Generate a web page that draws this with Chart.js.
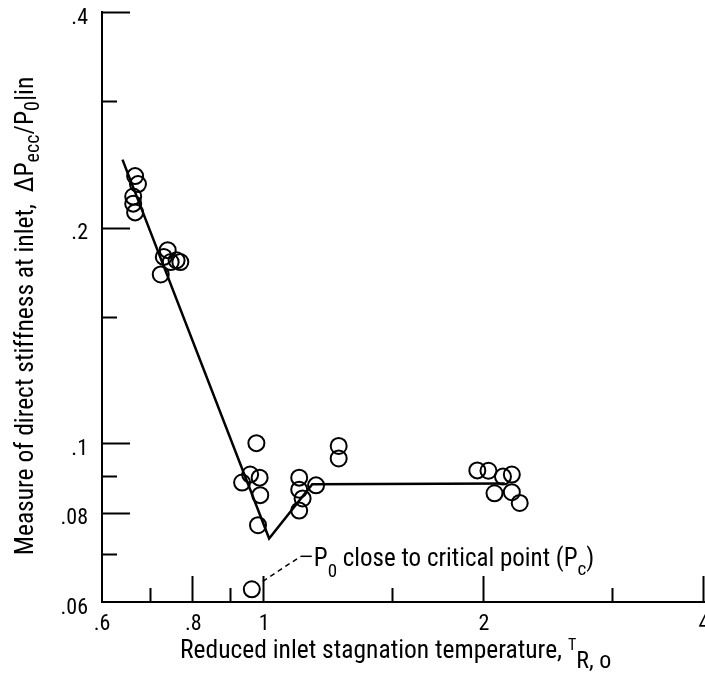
<!DOCTYPE html>
<html>
<head>
<meta charset="utf-8">
<script src="https://cdn.jsdelivr.net/npm/chart.js@4.4.1/dist/chart.umd.min.js"></script>
<style>
  html, body { margin: 0; padding: 0; background: #fff; }
</style>
</head>
<body>
<canvas id="chart" width="705" height="681"></canvas>
<script>
const FONT = '"Roboto Condensed", "DejaVu Sans Condensed", "Liberation Sans", sans-serif';

// test points: reduced inlet stagnation temperature vs. direct stiffness
const tempPoints = [0.666, 0.672, 0.662, 0.662, 0.666,
                    0.738, 0.729, 0.759, 0.768, 0.745, 0.722,
                    0.976, 0.933, 0.957, 0.986, 0.988, 0.981,
                    1.117, 1.117, 1.129, 1.117, 1.178, 1.265, 1.265,
                    1.958, 2.028, 2.123, 2.183, 2.067, 2.183, 2.238];
const stiffPoints = [0.236, 0.230, 0.221, 0.216, 0.210,
                     0.186, 0.182, 0.180, 0.179, 0.179, 0.172,
                     0.100, 0.0881, 0.0904, 0.0895, 0.0846, 0.0768,
                     0.0895, 0.0861, 0.0837, 0.0805, 0.0873, 0.0991, 0.0952,
                     0.0916, 0.0915, 0.0898, 0.0904, 0.0851, 0.0854, 0.0825];

// P0 close to critical point
const critTemp = [0.962];
const critStiff = [0.0625];

// faired curve
const curveTemp = [0.640, 1.016, 1.164, 2.135];
const curveStiff = [0.2488, 0.0736, 0.0876, 0.0878];

const xTicks = [0.6, 0.7, 0.8, 0.9, 1, 1.5, 2, 3, 4];
const xLabels = [".6", "", ".8", "", "1", "", "2", "", "4"];
const xMajor = [0.8, 1, 2, 4];
const yTicks = [0.06, 0.07, 0.08, 0.09, 0.1, 0.15, 0.2, 0.3, 0.4];
const yLabels = [".06", "", ".08", "", ".1", "", ".2", "", ".4"];
const yMajor = [0.08, 0.1, 0.2, 0.4];

const toXY = (xs, ys) => xs.map((x, i) => ({x: x, y: ys[i]}));

function drawParts(ctx, parts, x, y)
{
    let cx = x;
    for (const [t, size, dy] of parts)
    {
        ctx.font = size + "px " + FONT;
        ctx.fillText(t, cx, y + dy);
        cx += ctx.measureText(t).width;
    }
    return cx;
}

function partsWidth(ctx, parts)
{
    let w = 0;
    for (const [t, size] of parts)
    {
        ctx.font = size + "px " + FONT;
        w += ctx.measureText(t).width;
    }
    return w;
}

const decorPlugin = {
    id: "decor",
    afterDraw(chart)
    {
        const ctx = chart.ctx;
        const xs = chart.scales.x;
        const ys = chart.scales.y;
        const area = chart.chartArea;

        ctx.save();
        ctx.strokeStyle = "#000";
        ctx.fillStyle = "#000";
        ctx.lineWidth = 2;

        // inward tick marks
        ctx.beginPath();
        xTicks.forEach(v => {
            if (v === xTicks[0]) return;
            const px = Math.round(xs.getPixelForValue(v)) - 0.5;
            const len = xMajor.includes(v) ? 26 : 14;
            ctx.moveTo(px, area.bottom);
            ctx.lineTo(px, area.bottom - len);
        });
        yTicks.forEach(v => {
            if (v === yTicks[0]) return;
            const py = Math.round(ys.getPixelForValue(v)) + 0.5;
            const len = yMajor.includes(v) ? 28 : 15;
            ctx.moveTo(area.left, py);
            ctx.lineTo(area.left + len, py);
        });
        ctx.stroke();

        // x axis title
        ctx.textBaseline = "alphabetic";
        const xParts = [["Reduced inlet stagnation temperature, ", 25.5, 0], ["T", 16, -8], ["R, o", 24, 10]];
        drawParts(ctx, xParts, area.left + 78, 658);

        // y axis title (rotated)
        const yParts = [["Measure of direct stiffness at inlet,  \u0394P", 25.5, 0], ["ecc", 20, 6],
                        ["/P", 25.5, 0], ["0", 20, 6], ["|in", 25.5, 0]];
        const yw = partsWidth(ctx, yParts);
        ctx.save();
        ctx.translate(33, (area.top + area.bottom) / 2 + 9);
        ctx.rotate(-Math.PI / 2);
        drawParts(ctx, yParts, -yw / 2, 0);
        ctx.restore();

        // annotation for the near-critical point
        const cx = xs.getPixelForValue(critTemp[0]);
        const cy = ys.getPixelForValue(critStiff[0]);
        ctx.lineWidth = 1.5;
        ctx.setLineDash([5, 4]);
        ctx.beginPath();
        ctx.moveTo(cx + 11, cy - 8);
        ctx.lineTo(cx + 49, cy - 33);
        ctx.stroke();
        ctx.setLineDash([]);
        ctx.beginPath();
        ctx.moveTo(cx + 49, cy - 33);
        ctx.lineTo(cx + 60, cy - 33);
        ctx.stroke();
        drawParts(ctx, [["P", 25, 0], ["0", 19, 11], [" close to critical point (P", 25, 0], ["c", 19, 9], [")", 25, 0]],
                  cx + 62, cy - 23);

        ctx.restore();
    }
};

const pointStyleOpts = {
    pointStyle: "circle",
    pointRadius: 8,
    pointBorderWidth: 2,
    pointBorderColor: "#000",
    pointBackgroundColor: "rgba(0,0,0,0)"
};

const config = {
    type: "scatter",
    data: {
        datasets: [
            {
                label: "curve",
                data: toXY(curveTemp, curveStiff),
                showLine: true,
                borderColor: "#000",
                borderWidth: 2.5,
                pointRadius: 0,
                fill: false
            },
            Object.assign({label: "data", data: toXY(tempPoints, stiffPoints)}, pointStyleOpts),
            Object.assign({label: "critical", data: toXY(critTemp, critStiff)}, pointStyleOpts)
        ]
    },
    options: {
        responsive: false,
        animation: false,
        devicePixelRatio: 1,
        layout: {autoPadding: false, padding: {top: 12, right: 1, bottom: 0, left: 0}},
        plugins: {legend: {display: false}, tooltip: {enabled: false}},
        scales: {
            x: {
                type: "logarithmic",
                min: 0.6,
                max: 4,
                grid: {display: false, tickLength: 0},
                border: {display: true, color: "#000", width: 2},
                ticks: {
                    autoSkip: false,
                    maxRotation: 0,
                    padding: 9,
                    color: "#000",
                    font: {family: FONT, size: 22},
                    callback: (v) => {
                        const i = xTicks.findIndex(t => Math.abs(t - v) < 1e-6);
                        return i >= 0 ? xLabels[i] : "";
                    }
                },
                afterBuildTicks: (scale) => { scale.ticks = xTicks.map(v => ({value: v})); },
                afterFit: (scale) => { scale.height = 79; scale.paddingLeft = 0; scale.paddingRight = 0; }
            },
            y: {
                type: "logarithmic",
                min: 0.06,
                max: 0.4,
                grid: {display: false, tickLength: 0},
                border: {display: true, color: "#000", width: 2},
                ticks: {
                    autoSkip: false,
                    padding: 14,
                    labelOffset: 6,
                    color: "#000",
                    font: {family: FONT, size: 22},
                    callback: (v) => {
                        const i = yTicks.findIndex(t => Math.abs(t - v) < 1e-6);
                        return i >= 0 ? yLabels[i] : "";
                    }
                },
                afterBuildTicks: (scale) => { scale.ticks = yTicks.map(v => ({value: v})); },
                afterFit: (scale) => { scale.width = 102; scale.paddingTop = 0; scale.paddingBottom = 0; }
            }
        }
    },
    plugins: [decorPlugin]
};

try
{
    new Chart(document.getElementById("chart"), config);
}
catch (e)
{
    console.error(e.message);
}
</script>
</body>
</html>
